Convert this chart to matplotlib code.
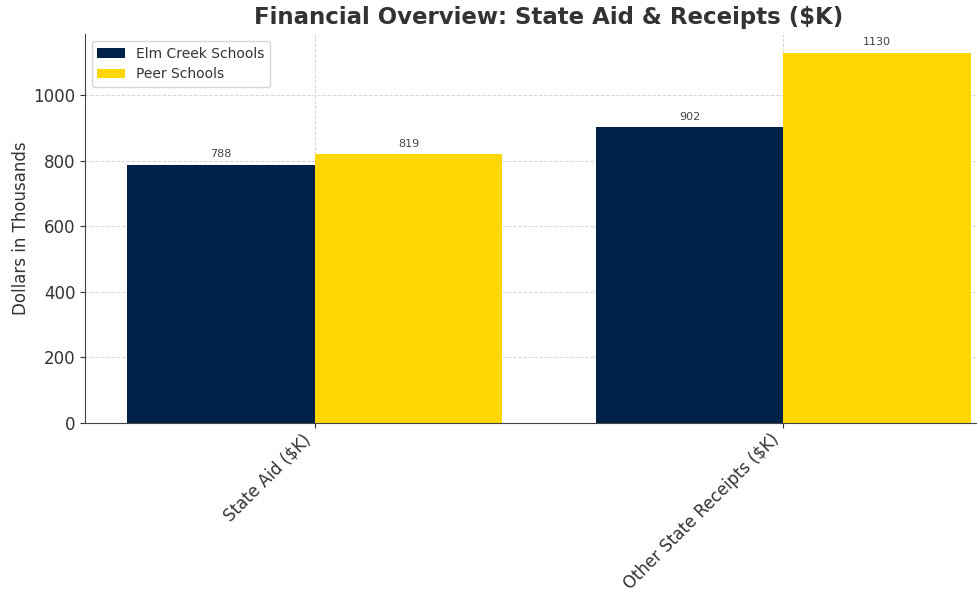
import matplotlib
matplotlib.use("Agg")
import matplotlib.pyplot as plt
import numpy as np

# data
categories = ["State Aid ($K)", "Other State Receipts ($K)"]
elm_creek = [788, 902]
peer = [819, 1130]
series_names = ["Elm Creek Schools", "Peer Schools"]

navy = "#002147"
gold = "#FFD700"
txt = "#333333"

fig = plt.figure(figsize=(9.78, 5.92), dpi=100)
# axes runs off the right edge, like the cropped original
ax = fig.add_axes([85 / 978, 169 / 592, (1013 - 85) / 978, (558 - 169) / 592])

x = np.arange(len(categories))
w = 0.4
b1 = ax.bar(x - w / 2, elm_creek, w, color=navy, label=series_names[0], zorder=2)
b2 = ax.bar(x + w / 2, peer, w, color=gold, label=series_names[1], zorder=2)

for bars in (b1, b2):
    for r in bars:
        h = r.get_height()
        ax.annotate(f"{h:.0f}", (r.get_x() + r.get_width() / 2, h),
                    xytext=(0, 4), textcoords="offset points",
                    ha="center", va="bottom", fontsize=8, color="#444444")

ax.set_xticks(x)
ax.set_xticklabels(categories, rotation=45, ha="right", fontsize=12, color=txt)
ax.tick_params(axis="y", labelsize=12, labelcolor=txt, color=txt)
ax.tick_params(axis="x", color=txt, pad=2)
ax.set_ylabel("Dollars in Thousands", fontsize=12, color=txt, labelpad=2)
ax.set_title("Financial Overview: State Aid & Receipts ($K)", fontsize=16.5,
             fontweight="bold", color=txt, pad=7)

ax.grid(True, linestyle="--", linewidth=0.7, color="#cccccc", alpha=0.8, zorder=0)
ax.set_axisbelow(True)
for s in ("top", "right"):
    ax.spines[s].set_visible(False)
for s in ("left", "bottom"):
    ax.spines[s].set_color("#444444")

ax.legend(loc="upper left", fontsize=10, labelcolor=txt)

fig.savefig("out.png", dpi=100)
